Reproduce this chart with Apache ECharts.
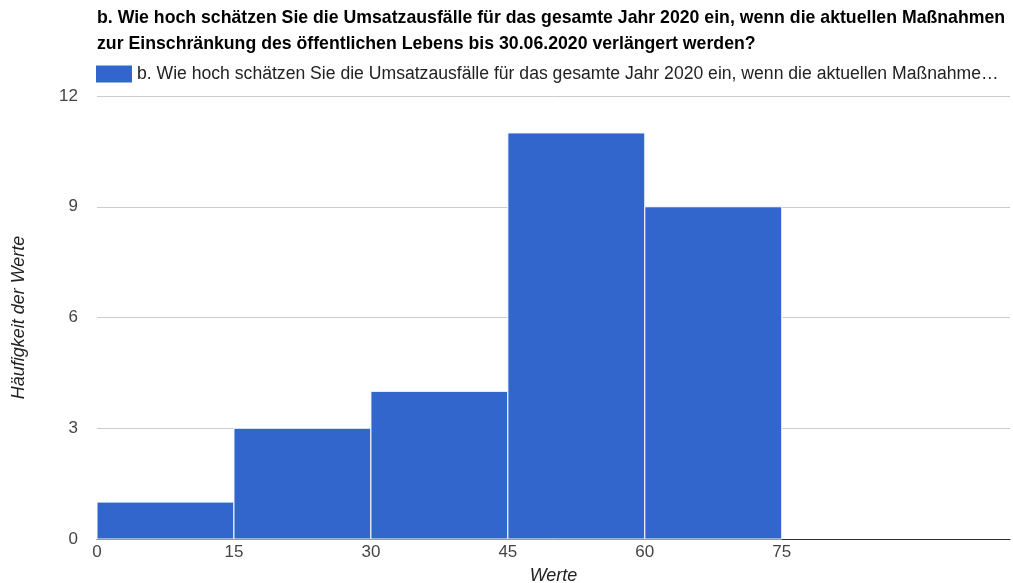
<!DOCTYPE html>
<html><head><meta charset="utf-8">
<script src="https://cdn.jsdelivr.net/npm/echarts@6/dist/echarts.min.js"></script>
<style>html,body{margin:0;padding:0;background:#fff}#c{width:1013px;height:583px}</style>
</head><body><div id="c"></div>
<script>
const titleLines = ['b. Wie hoch schätzen Sie die Umsatzausfälle für das gesamte Jahr 2020 ein, wenn die aktuellen Maßnahmen', 'zur Einschränkung des öffentlichen Lebens bis 30.06.2020 verlängert werden?'];
const seriesName = 'b. Wie hoch schätzen Sie die Umsatzausfälle für das gesamte Jahr 2020 ein, wenn die aktuellen Maßnahmen zur Einschränkung des öffentlichen Lebens bis 30.06.2020 verlängert werden?';
const binStart = [0, 15, 30, 45, 60];
const binEnd = [15, 30, 45, 60, 75];
const counts = [1, 3, 4, 11, 9];
const xTicks = [0, 15, 30, 45, 60, 75];
const yTicks = [0, 3, 6, 9, 12];
const xName = 'Werte';
const yName = 'Häufigkeit der Werte';

const FONT = 'Liberation Sans, Arial, sans-serif';
const data = counts.map((c, i) => [binStart[i], binEnd[i], c]);
const chart = echarts.init(document.getElementById('c'));
chart.setOption({
  animation: false,
  title: {
    text: titleLines.join('\n'),
    left: 97, top: 5, padding: 0,
    textStyle: { fontFamily: FONT, fontSize: 17.7, fontWeight: 'bold', color: '#000', lineHeight: 26 }
  },
  legend: {
    left: 96, top: 65, padding: 0,
    itemWidth: 36, itemHeight: 17, itemGap: 6,
    icon: 'rect',
    data: [seriesName],
    textStyle: { fontFamily: FONT, fontSize: 17.6, color: '#222', width: 889, overflow: 'truncate', ellipsis: '…' }
  },
  grid: { left: 97, right: 3, top: 96, bottom: 44, outerBoundsMode: 'none', containLabel: false },
  xAxis: {
    type: 'value', min: 0, max: 100, interval: 15,
    name: xName, nameLocation: 'middle', nameGap: 28,
    nameTextStyle: { fontFamily: FONT, fontSize: 18, fontStyle: 'italic', color: '#222' },
    axisLine: { show: true, lineStyle: { color: '#333', width: 1 } },
    axisTick: { show: false },
    splitLine: { show: false },
    axisLabel: {
      fontFamily: FONT, fontSize: 17, color: '#444', margin: 5,
      formatter: v => xTicks.indexOf(v) >= 0 ? String(v) : ''
    }
  },
  yAxis: {
    type: 'value', min: 0, max: 12, interval: 3,
    name: yName, nameLocation: 'middle', nameGap: 69, nameRotate: 90,
    nameTextStyle: { fontFamily: FONT, fontSize: 18, fontStyle: 'italic', color: '#222' },
    axisLine: { show: false },
    axisTick: { show: false },
    splitLine: { lineStyle: { color: '#ccc', width: 1 } },
    axisLabel: {
      fontFamily: FONT, fontSize: 17, color: '#444', margin: 19,
      formatter: v => yTicks.indexOf(v) >= 0 ? String(v) : ''
    }
  },
  series: [{
    name: seriesName,
    type: 'custom',
    itemStyle: { color: '#3366cc' },
    encode: { x: [0, 1], y: 2 },
    data: data,
    renderItem: function (params, api) {
      const p0 = api.coord([api.value(0), api.value(2)]);
      const p1 = api.coord([api.value(1), 0]);
      return {
        type: 'rect',
        shape: { x: p0[0], y: p0[1], width: p1[0] - p0[0], height: p1[1] - p0[1] },
        style: { fill: '#3366cc', stroke: '#ffffff', lineWidth: 1 }
      };
    }
  }]
});
</script></body></html>
